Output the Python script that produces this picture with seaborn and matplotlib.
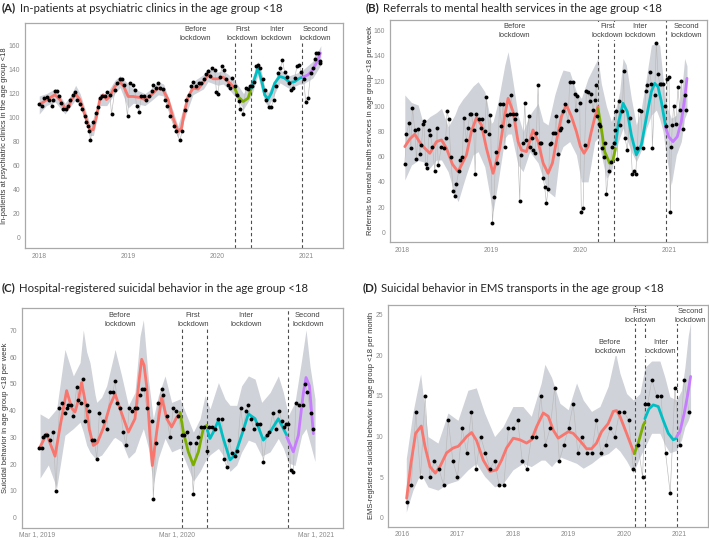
import matplotlib
matplotlib.use("Agg")
import matplotlib.pyplot as plt
import pandas as pd
import seaborn as sns

# lockdown dates (decimal years)
lockdowns = [2020.2, 2020.38, 2020.955]
phase_colors = {"before": "#F8766D", "first": "#7CAE00", "inter": "#00BFC4", "second": "#C77CFF"}

# ---------------- (A) in-patients ----------------
A_pts_x = [2018.000, 2018.026, 2018.056, 2018.082, 2018.112, 2018.139, 2018.157, 2018.176, 2018.202, 2018.225,
           2018.244, 2018.262, 2018.300, 2018.326, 2018.345, 2018.375, 2018.401, 2018.427, 2018.457, 2018.487,
           2018.514, 2018.532, 2018.551, 2018.562, 2018.577, 2018.607, 2018.634, 2018.664, 2018.682, 2018.712,
           2018.739, 2018.765, 2018.795, 2018.814, 2018.851, 2018.877, 2018.907, 2018.937, 2018.952, 2018.994,
           2019.020, 2019.050, 2019.076, 2019.095, 2019.125, 2019.151, 2019.177, 2019.207, 2019.237, 2019.264,
           2019.282, 2019.312, 2019.339, 2019.365, 2019.395, 2019.414, 2019.444, 2019.477, 2019.515, 2019.537,
           2019.582, 2019.612, 2019.639, 2019.657, 2019.687, 2019.714, 2019.732, 2019.762, 2019.796, 2019.826,
           2019.852, 2019.875, 2019.901, 2019.920, 2019.950, 2019.976, 2019.995, 2020.014, 2020.032, 2020.062,
           2020.077, 2020.107, 2020.126, 2020.145, 2020.175, 2020.201, 2020.227, 2020.250, 2020.265, 2020.295,
           2020.325, 2020.351, 2020.370, 2020.396, 2020.418, 2020.445, 2020.463, 2020.490, 2020.520, 2020.538,
           2020.557, 2020.587, 2020.613, 2020.640, 2020.662, 2020.688, 2020.715, 2020.737, 2020.763, 2020.790,
           2020.812, 2020.838, 2020.857, 2020.876, 2020.902, 2020.925, 2020.951, 2020.977, 2021.000, 2021.026,
           2021.056, 2021.082, 2021.101, 2021.120, 2021.138, 2021.157, 2021.165]
A_pts_y = [111, 110, 116, 117, 115, 110, 115, 122, 122, 118,
           112, 107, 107, 110, 115, 119, 121, 115, 111, 107,
           101, 96, 93, 89, 81, 96, 104, 109, 116, 118,
           118, 121, 119, 103, 123, 129, 132, 132, 127, 101,
           129, 127, 123, 110, 105, 118, 118, 115, 118, 122,
           127, 125, 129, 125, 124, 115, 110, 101, 93, 89,
           81, 89, 106, 115, 119, 126, 130, 126, 129, 129,
           132, 136, 139, 135, 141, 140, 121, 120, 134, 143,
           140, 132, 127, 125, 133, 126, 119, 114, 107, 103,
           125, 124, 126, 126, 130, 143, 144, 141, 132, 123,
           115, 109, 109, 115, 126, 137, 141, 148, 138, 134,
           129, 123, 125, 133, 143, 144, 138, 132, 113, 116,
           137, 141, 149, 154, 154, 147, 146]

A_before_x = [2018.000, 2018.082, 2018.176, 2018.232, 2018.289, 2018.326, 2018.364, 2018.412, 2018.457, 2018.514,
              2018.570, 2018.607, 2018.645, 2018.682, 2018.720, 2018.757, 2018.795, 2018.851, 2018.907, 2018.952,
              2019.001, 2019.057, 2019.132, 2019.189, 2019.264, 2019.339, 2019.395, 2019.451, 2019.507, 2019.564,
              2019.601, 2019.639, 2019.676, 2019.732, 2019.789, 2019.852, 2019.901, 2019.957,
              2020.014, 2020.070, 2020.126, 2020.164, 2020.201]
A_before_y = [110.7, 114.8, 119, 115, 108, 108, 115, 119.5, 115, 102,
              89.8, 89.8, 101, 115, 119, 115, 117.6, 126, 130, 126,
              117.6, 117.6, 116.8, 115, 119, 124.6, 123, 115, 99.5, 88.4,
              91, 106.5, 117.6, 124.6, 123.8, 130, 135.7, 132.4,
              132.4, 133.8, 130, 127.4, 124.6]
A_first_x = [2020.201, 2020.239, 2020.295, 2020.351, 2020.388]
A_first_y = [124.6, 117.6, 113.4, 116.2, 124.6]
A_inter_x = [2020.388, 2020.426, 2020.463, 2020.501, 2020.538, 2020.576, 2020.613, 2020.651, 2020.707, 2020.763,
             2020.820, 2020.876, 2020.932, 2020.970]
A_inter_y = [124.6, 133, 141.3, 131.6, 119, 115.4, 120.4, 128.8, 134.4, 133, 129.3, 130, 133, 133.8]
A_second_x = [2020.970, 2021.026, 2021.082, 2021.138, 2021.165]
A_second_y = [133.8, 135.7, 140, 148.3, 153.9]

A_band_x = [2018.00, 2018.08, 2018.18, 2018.29, 2018.36, 2018.41, 2018.46, 2018.57, 2018.61, 2018.68,
            2018.76, 2018.85, 2018.91, 2019.00, 2019.06, 2019.13, 2019.19, 2019.26, 2019.34, 2019.40,
            2019.51, 2019.56, 2019.64, 2019.73, 2019.85, 2019.90, 2020.01, 2020.07, 2020.13, 2020.20,
            2020.30, 2020.39, 2020.46, 2020.54, 2020.58, 2020.71, 2020.82, 2020.93, 2020.97, 2021.08, 2021.17]
A_band_lo = [103, 110, 113, 103, 110, 115, 110, 85, 85, 110,
             110, 120, 125, 108, 112, 111, 110, 114, 119, 118,
             94, 83, 100, 119, 124, 130, 127, 128, 124, 118,
             107, 118, 135, 113, 109, 129, 124, 128, 128, 133, 144]
A_band_hi = [118, 120, 124, 112, 119, 127, 120, 95, 95, 120,
             120, 131, 135, 128, 124, 122, 120, 124, 130, 128,
             105, 93, 112, 130, 136, 141, 138, 139, 136, 131,
             120, 131, 147, 125, 121, 140, 135, 138, 140, 147, 160]

# ---------------- (B) referrals ----------------
B_pts_x = [2018.026, 2018.045, 2018.075, 2018.094, 2018.112, 2018.138, 2018.157, 2018.176, 2018.195, 2018.213,
           2018.232, 2018.239, 2018.262, 2018.277, 2018.299, 2018.314, 2018.337, 2018.363, 2018.389, 2018.400,
           2018.438, 2018.464, 2018.486, 2018.501, 2018.520, 2018.542, 2018.569, 2018.587, 2018.606, 2018.632,
           2018.643, 2018.673, 2018.688, 2018.718, 2018.737, 2018.756, 2018.774, 2018.801, 2018.816, 2018.831,
           2018.860, 2018.879, 2018.898, 2018.924, 2018.943, 2018.973, 2018.988, 2019.010, 2019.029, 2019.047,
           2019.062, 2019.092, 2019.111, 2019.130, 2019.149, 2019.175, 2019.193, 2019.205, 2019.220, 2019.242,
           2019.261, 2019.279, 2019.317, 2019.328, 2019.354, 2019.373, 2019.392, 2019.418, 2019.429, 2019.452,
           2019.466, 2019.485, 2019.504, 2019.523, 2019.541, 2019.560, 2019.579, 2019.597, 2019.616, 2019.635,
           2019.654, 2019.672, 2019.691, 2019.710, 2019.728, 2019.747, 2019.766, 2019.785, 2019.803, 2019.822,
           2019.859, 2019.878, 2019.915, 2019.934, 2019.945, 2019.964, 2019.990, 2020.009, 2020.028, 2020.046,
           2020.065, 2020.084, 2020.102, 2020.121, 2020.140, 2020.159, 2020.177, 2020.185, 2020.207, 2020.222,
           2020.245, 2020.260, 2020.271, 2020.290, 2020.316, 2020.338, 2020.357, 2020.372, 2020.387, 2020.402,
           2020.413, 2020.428, 2020.447, 2020.469, 2020.484, 2020.499, 2020.525, 2020.551, 2020.581, 2020.600,
           2020.619, 2020.637, 2020.656, 2020.675, 2020.701, 2020.731, 2020.750, 2020.776, 2020.795, 2020.806,
           2020.832, 2020.851, 2020.869, 2020.888, 2020.907, 2020.926, 2020.944, 2020.963, 2020.974, 2020.993,
           2021.008, 2021.019, 2021.030, 2021.045, 2021.068, 2021.094, 2021.113, 2021.131, 2021.150, 2021.169,
           2021.187]
B_pts_y = [54, 78, 87, 67, 99, 81, 58, 82, 62, 69,
           86, 88, 54, 51, 81, 77, 68, 49, 83, 53,
           68, 67, 75, 96, 90, 60, 33, 29, 38, 49,
           57, 60, 91, 73, 83, 94, 94, 81, 46, 94,
           90, 83, 90, 80, 107, 78, 93, 7, 28, 64,
           55, 102, 84, 102, 68, 93, 85, 94, 109, 94,
           90, 94, 25, 61, 71, 103, 73, 92, 68, 75,
           65, 63, 79, 117, 71, 71, 43, 36, 23, 34,
           70, 71, 79, 79, 92, 62, 81, 83, 96, 102,
           88, 119, 119, 110, 97, 108, 103, 16, 19, 69,
           112, 111, 104, 110, 97, 105, 117, 92, 86, 84,
           67, 60, 71, 30, 49, 56, 68, 71, 81, 96,
           58, 104, 85, 96, 128, 75, 65, 91, 46, 49,
           46, 67, 97, 96, 67, 112, 117, 127, 118, 67,
           109, 150, 126, 118, 118, 118, 100, 84, 122, 123,
           16, 68, 85, 100, 86, 115, 97, 120, 82, 109,
           97]

B_before_x = [2018.026, 2018.082, 2018.138, 2018.213, 2018.307, 2018.382, 2018.438, 2018.494, 2018.561, 2018.625,
              2018.718, 2018.774, 2018.831, 2018.887, 2018.943, 2019.017, 2019.092, 2019.149, 2019.186, 2019.242,
              2019.298, 2019.336, 2019.392, 2019.466, 2019.523, 2019.579, 2019.635, 2019.684, 2019.728, 2019.785,
              2019.841, 2019.897, 2019.953, 2019.998, 2020.039, 2020.084, 2020.121, 2020.159, 2020.196]
B_before_y = [68, 74, 77.8, 69.3, 62.7, 71.9, 73.3, 66.6, 54, 48.1,
              61.4, 80, 91, 85.2, 66.6, 46.8, 66.6, 93, 106.3, 95.7,
              72, 65.3, 64, 81.2, 71.9, 55, 46.8, 55, 72, 92,
              101, 92, 80, 68, 62.7, 68, 80, 91, 99.7]
B_first_x = [2020.196, 2020.233, 2020.271, 2020.327, 2020.364, 2020.391]
B_first_y = [98.4, 82.5, 64, 54.7, 57.4, 66.6]
B_inter_x = [2020.391, 2020.428, 2020.477, 2020.525, 2020.570, 2020.626, 2020.682, 2020.738, 2020.795, 2020.832,
             2020.869, 2020.907, 2020.952]
B_inter_y = [69.3, 87.8, 102.4, 95.7, 77.2, 61.4, 69.3, 90.5, 111.6, 118.2, 115.6, 103.7, 85.2]
B_second_x = [2020.952, 2020.989, 2021.038, 2021.086, 2021.131, 2021.169, 2021.195]
B_second_y = [83.8, 75.9, 71.9, 75.9, 87.8, 106.3, 122.2]

B_band_x = [2018.026, 2018.101, 2018.176, 2018.232, 2018.307, 2018.382, 2018.438, 2018.513, 2018.587, 2018.625,
            2018.681, 2018.718, 2018.793, 2018.849, 2018.924, 2018.999, 2019.018, 2019.074, 2019.149, 2019.186,
            2019.223, 2019.298, 2019.354, 2019.429, 2019.523, 2019.579, 2019.635, 2019.710, 2019.766, 2019.803,
            2019.878, 2019.953, 2020.009, 2020.084, 2020.159, 2020.196, 2020.233, 2020.290, 2020.346, 2020.402,
            2020.439, 2020.477, 2020.514, 2020.570, 2020.626, 2020.682, 2020.738, 2020.795, 2020.851, 2020.888,
            2020.926, 2020.963, 2021.019, 2021.075, 2021.131, 2021.169, 2021.195]
B_band_hi = [109, 103, 101, 86.5, 91.8, 95, 98.4, 83.8, 93, 100,
             106, 109, 116, 119.5, 111.6, 86.5, 88, 103.7, 132.8, 143.3,
             127.5, 93, 79.9, 93, 102.4, 87.8, 85.2, 109, 122, 128.8,
             127.5, 111.6, 106.3, 122.2, 132.8, 138, 118, 100, 88, 100,
             111.6, 138, 132.8, 106.3, 85.2, 98.4, 122.2, 148.6, 150, 148.6,
             122.2, 101, 90.5, 93, 109, 138, 132]
B_band_lo = [41.5, 53.4, 57, 56, 51, 57.4, 57.4, 48, 30, 24.3,
             37.6, 46, 61.4, 64, 52, 22, 16.4, 40, 74.6, 78,
             78, 53.4, 48.1, 64, 55, 42.8, 32.3, 28, 61.4, 68,
             72, 61.4, 40, 40, 72, 75, 61.4, 42.8, 48.1, 66.6,
             75, 82.5, 75, 64, 56, 65, 82, 93, 97, 90,
             79.9, 60, 37.6, 61.4, 71.9, 90.5, 95]

# ---------------- (C) hospital-registered suicidal behavior ----------------
C_pts_x = [2019.182, 2019.199, 2019.211, 2019.223, 2019.239, 2019.258, 2019.282, 2019.301, 2019.325, 2019.342,
           2019.365, 2019.377, 2019.389, 2019.406, 2019.425, 2019.449, 2019.461, 2019.477, 2019.492, 2019.508,
           2019.525, 2019.539, 2019.556, 2019.575, 2019.592, 2019.611, 2019.634, 2019.663, 2019.687, 2019.706,
           2019.723, 2019.739, 2019.758, 2019.782, 2019.801, 2019.825, 2019.842, 2019.865, 2019.882, 2019.901,
           2019.913, 2019.930, 2019.949, 2019.984, 2019.996, 2020.015, 2020.032, 2020.056, 2020.068, 2020.092,
           2020.115, 2020.139, 2020.158, 2020.175, 2020.199, 2020.215, 2020.239, 2020.258, 2020.282, 2020.301,
           2020.318, 2020.337, 2020.358, 2020.377, 2020.396, 2020.413, 2020.437, 2020.461, 2020.484, 2020.501,
           2020.520, 2020.539, 2020.556, 2020.580, 2020.596, 2020.620, 2020.639, 2020.658, 2020.675, 2020.692,
           2020.715, 2020.734, 2020.758, 2020.782, 2020.806, 2020.825, 2020.849, 2020.873, 2020.896, 2020.913,
           2020.930, 2020.944, 2020.961, 2020.977, 2020.996, 2021.015, 2021.039, 2021.063, 2021.080, 2021.096,
           2021.120, 2021.139]
C_pts_y = [26, 26, 30, 31, 31, 29, 32, 10, 41, 43,
           39, 41, 42, 42, 38, 49, 44, 43, 52, 36,
           42, 40, 29, 29, 22, 39, 36, 33, 47, 47,
           51, 43, 41, 32, 27, 41, 40, 41, 41, 46,
           48, 48, 41, 36, 7, 28, 43, 48, 46, 38,
           30, 41, 40, 38, 31, 31, 32, 28, 9, 28,
           30, 34, 34, 25, 34, 34, 33, 37, 37, 22,
           19, 29, 24, 23, 25, 41, 33, 40, 42, 37,
           33, 35, 35, 21, 31, 32, 39, 33, 40, 36,
           34, 35, 35, 18, 17, 43, 42, 42, 50, 47,
           39, 33]

C_before_x = [2019.182, 2019.234, 2019.294, 2019.330, 2019.377, 2019.413, 2019.437, 2019.461, 2019.484, 2019.515,
              2019.539, 2019.568, 2019.596, 2019.639, 2019.687, 2019.723, 2019.770, 2019.818, 2019.865, 2019.896,
              2019.913, 2019.930, 2019.949, 2019.973, 2019.989, 2020.020, 2020.056, 2020.092, 2020.127, 2020.163,
              2020.187]
C_before_y = [25.9, 31.3, 23, 34, 47.5, 41, 39.5, 44, 50.5, 42,
              33, 27, 28, 33.5, 42, 46.2, 39, 32, 37, 52,
              59.2, 57, 49, 30, 19.5, 32, 45, 37, 33.9, 37.5,
              38.8]
C_first_x = [2020.187, 2020.211, 2020.246, 2020.282, 2020.318, 2020.353, 2020.377]
C_first_y = [39.4, 32, 24.6, 19.7, 24.6, 33.3, 34.5]
C_inter_x = [2020.382, 2020.401, 2020.425, 2020.461, 2020.496, 2020.544, 2020.580, 2020.627, 2020.675, 2020.723,
             2020.782, 2020.830, 2020.889, 2020.925, 2020.949]
C_inter_y = [32.7, 29.6, 32, 36.4, 29.6, 21.6, 23.4, 30.8, 38.8, 37, 29, 32, 37, 33.3, 30.8]
C_second_x = [2020.949, 2020.996, 2021.032, 2021.068, 2021.087, 2021.111, 2021.139]
C_second_y = [30.2, 24.6, 30.8, 46.8, 52.4, 49.3, 31.4]

C_band_x = [2019.187, 2019.246, 2019.306, 2019.365, 2019.425, 2019.473, 2019.496, 2019.520, 2019.544, 2019.580,
            2019.592, 2019.627, 2019.663, 2019.711, 2019.723, 2019.770, 2019.818, 2019.865, 2019.901, 2019.925,
            2019.961, 2019.996, 2020.032, 2020.080, 2020.127, 2020.187, 2020.234, 2020.282, 2020.330, 2020.365,
            2020.401, 2020.461, 2020.508, 2020.544, 2020.592, 2020.627, 2020.675, 2020.723, 2020.770, 2020.830,
            2020.889, 2020.925, 2020.961, 2021.008, 2021.056, 2021.087, 2021.115, 2021.151]
C_band_hi = [38.8, 37, 40.7, 62.9, 53, 58, 70.2, 62, 57.9, 46,
             43.1, 45, 49.3, 60, 62.9, 53, 41.9, 46.8, 67.8, 74,
             51.8, 37, 45.6, 53, 43.1, 44.4, 38.2, 32, 37, 45.6,
             40.7, 50.5, 44.4, 42, 42, 49.3, 53, 51.8, 43.1, 46.8,
             53, 46.8, 38.2, 43.1, 59.2, 70.2, 56.7, 44.4]
C_band_lo = [14.8, 19.7, 11.1, 30.8, 33.3, 35.7, 32, 27.1, 24.5, 22.2,
             22.5, 23.4, 26, 29.6, 30, 28.3, 22.2, 24.6, 30, 33.3,
             26, 12.3, 22.2, 29.6, 24.6, 26, 20, 13.6, 17.3, 21,
             23.5, 25.9, 22.2, 17.3, 19.7, 24.5, 29, 28, 23, 24.6,
             29.6, 26, 20.5, 19.5, 30.8, 33.3, 28, 21]

# ---------------- (D) EMS transports ----------------
D_pts_x = [2016.088, 2016.171, 2016.254, 2016.338, 2016.421, 2016.504, 2016.588, 2016.671, 2016.754, 2016.838,
           2016.921, 2017.004, 2017.088, 2017.171, 2017.254, 2017.338, 2017.421, 2017.504, 2017.588, 2017.671,
           2017.754, 2017.838, 2017.921, 2018.004, 2018.088, 2018.171, 2018.254, 2018.338, 2018.421, 2018.504,
           2018.588, 2018.671, 2018.754, 2018.838, 2018.921, 2019.004, 2019.088, 2019.171, 2019.254, 2019.338,
           2019.421, 2019.504, 2019.588, 2019.671, 2019.754, 2019.838, 2019.921, 2020.004, 2020.088, 2020.171,
           2020.253, 2020.337, 2020.385, 2020.427, 2020.505, 2020.589, 2020.667, 2020.751, 2020.835, 2020.919,
           2021.003, 2021.087, 2021.171]
D_pts_y = [2, 4, 13, 5, 15, 5, 7, 6, 4, 12,
           7, 5, 11, 8, 13, 6, 10, 8, 6, 7,
           4, 4, 11, 11, 12, 7, 6, 10, 10, 15,
           9, 11, 16, 7, 9, 11, 14, 8, 10, 8,
           8, 12, 8, 9, 11, 10, 13, 13, 12, 6,
           9, 5, 14, 14, 17, 15, 15, 8, 3, 16,
           9, 17, 13]

D_before_x = [2016.088, 2016.166, 2016.250, 2016.352, 2016.418, 2016.508, 2016.604, 2016.688, 2016.808, 2016.928,
              2017.018, 2017.108, 2017.168, 2017.258, 2017.348, 2017.468, 2017.588, 2017.708, 2017.798, 2017.888,
              2018.008, 2018.128, 2018.248, 2018.338, 2018.428, 2018.548, 2018.638, 2018.728, 2018.818, 2018.908,
              2018.998, 2019.088, 2019.208, 2019.328, 2019.418, 2019.508, 2019.598, 2019.718, 2019.809, 2019.869,
              2019.929, 2020.049, 2020.187]
D_before_y = [2.4, 6.7, 10.4, 11.3, 8.8, 6.3, 5.5, 6.3, 8, 8.6,
              8.8, 9.5, 10, 10.5, 9.5, 7.1, 5.7, 5.9, 7.1, 8.6,
              9.8, 9.6, 9.2, 9.6, 11.2, 12.9, 12.5, 10.8, 9.8, 10.2,
              10.6, 10.4, 9.5, 8.5, 8.5, 9.2, 10.6, 11.6, 13.1, 13.2,
              12.5, 10.4, 7.9]
D_first_x = [2020.187, 2020.259, 2020.349, 2020.379]
D_first_y = [7.9, 9.2, 11.4, 11.8]
D_inter_x = [2020.379, 2020.451, 2020.529, 2020.619, 2020.709, 2020.800, 2020.890, 2020.950]
D_inter_y = [12.2, 13.4, 13.9, 13.7, 12, 10.4, 9.6, 9.8]
D_second_x = [2020.950, 2021.010, 2021.088, 2021.148, 2021.202]
D_second_y = [10, 10.6, 12.9, 15.1, 17.4]

D_band_x = [2016.082, 2016.202, 2016.340, 2016.472, 2016.652, 2016.832, 2017.012, 2017.192, 2017.342, 2017.492,
            2017.672, 2017.822, 2018.002, 2018.182, 2018.332, 2018.512, 2018.578, 2018.698, 2018.848, 2018.998,
            2019.148, 2019.268, 2019.418, 2019.568, 2019.718, 2019.851, 2019.929, 2020.049, 2020.169, 2020.289,
            2020.379, 2020.499, 2020.649, 2020.739, 2020.829, 2020.949, 2021.039, 2021.099, 2021.159, 2021.201]
D_band_hi = [7.3, 13, 17.7, 10, 9.2, 12.9, 12, 15.7, 16, 12.9,
             10, 11.2, 13.7, 13.7, 12.5, 16.6, 18.9, 17.3, 14.1, 13.3,
             16.6, 14.5, 13.1, 13.7, 16.2, 20.3, 17.8, 15.3, 14.5, 15.3,
             18.5, 19.3, 19.3, 17.3, 14.9, 14.5, 15.7, 18.5, 22.4, 24]
D_band_lo = [0.7, 3.4, 5.5, 3.8, 3.4, 4.2, 4.6, 5.9, 6.7, 5.1,
             3.8, 4.2, 5.9, 6.7, 6.3, 7.1, 7.1, 6.3, 7.5, 7.1,
             6.7, 6.1, 6.7, 7.5, 7.9, 8.7, 8.2, 7, 5.5, 7.5,
             8.7, 10.4, 10.4, 9, 8, 8.3, 9.6, 11.2, 12, 12.9]


def fit_frame(segs):
    rows = []
    for phase, xs, ys in segs:
        rows.append(pd.DataFrame({"x": xs, "fit": ys, "phase": phase}))
    return pd.concat(rows, ignore_index=True)


def draw_panel(ax, pts_x, pts_y, band_x, band_lo, band_hi, segs, xlim, ylim, yticks,
               xticks, xticklabels, ylabel, ylab_x, labels, xpad=1.5):
    ax.fill_between(band_x, band_lo, band_hi, color="#cfd2d9", lw=0, zorder=1)
    sns.lineplot(x=pts_x, y=pts_y, color="#b9b9b9", lw=0.45, sort=False, estimator=None, ax=ax, zorder=2)
    for xv in lockdowns:
        ax.axvline(xv, color="#4d4d4d", ls=(0, (3, 2.5)), lw=0.8, zorder=2.5)
    fit = fit_frame(segs)
    sns.lineplot(data=fit, x="x", y="fit", hue="phase", palette=phase_colors, sort=False,
                 estimator=None, lw=2.0, legend=False, ax=ax, zorder=3)
    sns.scatterplot(x=pts_x, y=pts_y, color="black", s=8, linewidth=0, ax=ax, zorder=4)
    for txt, tx, ty in labels:
        ax.text(tx, ty, txt, ha="center", va="center", fontsize=5.4, color="#404040",
                linespacing=1.4, family="Liberation Sans", zorder=5,
                bbox=dict(facecolor="white", edgecolor="none", pad=0.6))
    ax.set_xlim(*xlim)
    ax.set_ylim(*ylim)
    ax.set_yticks(yticks)
    ax.set_xticks(xticks)
    ax.set_xticklabels(xticklabels)
    ax.set_xlabel("")
    ax.set_ylabel(ylabel, fontsize=5.4, color="#333333", family="Liberation Sans")
    ax.yaxis.set_label_coords(ylab_x, 0.5)
    ax.tick_params(labelsize=4.9, labelcolor="#8a8a8a", color="#9a9a9a", length=2, width=0.5, pad=1.5)
    ax.tick_params(axis="x", pad=xpad)
    for s in ax.spines.values():
        s.set_color("#a9a9a9")
        s.set_linewidth(0.9)
    for t in ax.get_xticklabels() + ax.get_yticklabels():
        t.set_family("Liberation Sans")


sns.set_style("white")
plt.rcParams["font.family"] = ["Lato", "DejaVu Sans"]

fig = plt.figure(figsize=(7.09, 5.40), dpi=100)
axA = fig.add_axes([0.0353, 0.5407, 0.4485, 0.4167])
axB = fig.add_axes([0.5501, 0.5519, 0.4471, 0.4111])
axC = fig.add_axes([0.0306, 0.0230, 0.4532, 0.4072])
axD = fig.add_axes([0.5472, 0.0246, 0.4513, 0.4106])

yr_ticks = [2018, 2019, 2020, 2021]
draw_panel(axA, A_pts_x, A_pts_y, A_band_x, A_band_lo, A_band_hi,
           [("before", A_before_x, A_before_y), ("first", A_first_x, A_first_y),
            ("inter", A_inter_x, A_inter_y), ("second", A_second_x, A_second_y)],
           (2017.84, 2021.42), (-9, 179), range(0, 161, 20), yr_ticks, [str(y) for y in yr_ticks],
           "In-patients at psychiatric clinics in the age group <18", -0.052,
           [("Before\nlockdown", 2019.76, 170), ("First\nlockdown", 2020.29, 170),
            ("Inter\nlockdown", 2020.67, 170), ("Second\nlockdown", 2021.11, 170)])

draw_panel(axB, B_pts_x, B_pts_y, B_band_x, B_band_lo, B_band_hi,
           [("before", B_before_x, B_before_y), ("first", B_first_x, B_first_y),
            ("inter", B_inter_x, B_inter_y), ("second", B_second_x, B_second_y)],
           (2017.86, 2021.42), (-7.7, 168.5), range(0, 161, 20), yr_ticks, [str(y) for y in yr_ticks],
           "Referrals to mental health services in age group <18 per week", -0.05,
           [("Before\nlockdown", 2019.26, 159.5), ("First\nlockdown", 2020.30, 159.5),
            ("Inter\nlockdown", 2020.67, 159.5), ("Second\nlockdown", 2021.19, 159.5)])

draw_panel(axC, C_pts_x, C_pts_y, C_band_x, C_band_lo, C_band_hi,
           [("before", C_before_x, C_before_y), ("first", C_first_x, C_first_y),
            ("inter", C_inter_x, C_inter_y), ("second", C_second_x, C_second_y)],
           (2019.056, 2021.351), (-3.7, 78.5), range(0, 71, 10), [2019.163, 2020.163, 2021.162],
           ["Mar 1, 2019", "Mar 1, 2020", "Mar 1, 2021"],
           "Suicidal behavior in age group <18 per week", -0.038,
           [("Before\nlockdown", 2019.758, 74), ("First\nlockdown", 2020.28, 74),
            ("Inter\nlockdown", 2020.66, 74), ("Second\nlockdown", 2021.10, 74)], xpad=0.6)

d_ticks = [2016, 2017, 2018, 2019, 2020, 2021]
draw_panel(axD, D_pts_x, D_pts_y, D_band_x, D_band_lo, D_band_hi,
           [("before", D_before_x, D_before_y), ("first", D_first_x, D_first_y),
            ("inter", D_inter_x, D_inter_y), ("second", D_second_x, D_second_y)],
           (2015.752, 2021.514), (-1.1, 26.2), range(0, 26, 5), d_ticks, [str(y) for y in d_ticks],
           "EMS-registered suicidal behavior in age group <18 per month", -0.041,
           [("Before\nlockdown", 2019.75, 21), ("First\nlockdown", 2020.29, 24.9),
            ("Inter\nlockdown", 2020.66, 21), ("Second\nlockdown", 2021.2, 24.9)], xpad=0.8)

titles = [("(A)", "In-patients at psychiatric clinics in the age group <18", 2, 8),
          ("(B)", "Referrals to mental health services in the age group <18", 366, 8),
          ("(C)", "Hospital-registered suicidal behavior in the age group <18", 2, 288),
          ("(D)", "Suicidal behavior in EMS transports in the age group <18", 363, 288)]
for tag, rest, px, py in titles:
    t = fig.text(px / 709, 1 - py / 540, tag, fontsize=8.2, fontweight="bold", va="center", ha="left")
    fig.add_artist(plt.Annotation(rest, xy=(1, 0.5), xycoords=t, xytext=(2.5, 0),
                                  textcoords="offset points", va="center", ha="left", fontsize=8.2))

fig.savefig("out.png", dpi=100)
